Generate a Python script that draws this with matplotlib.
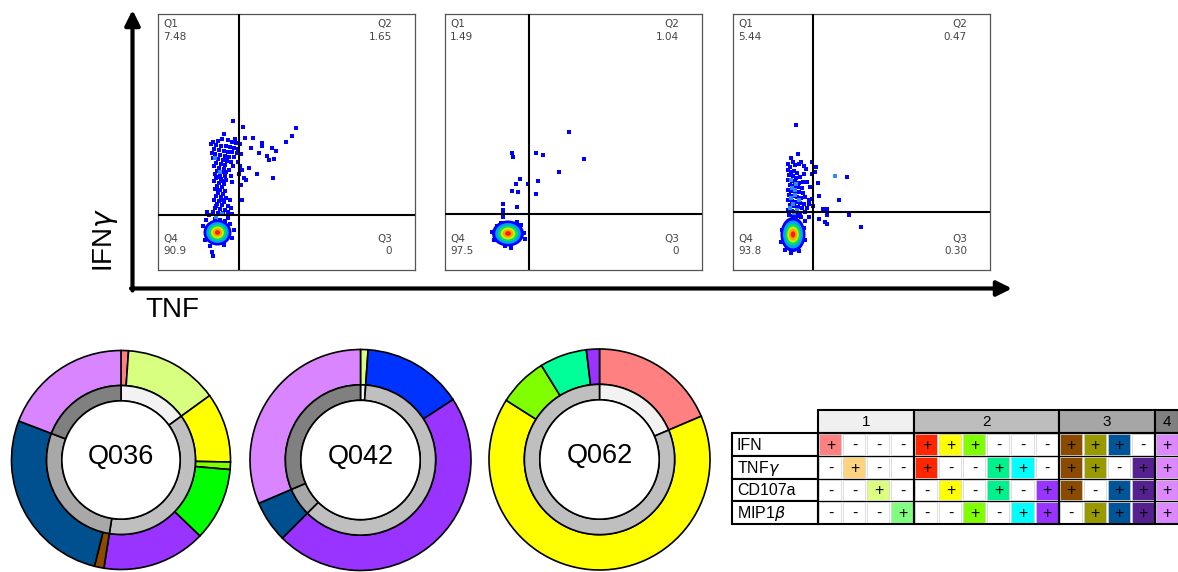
import matplotlib
matplotlib.use('Agg')
import matplotlib.pyplot as plt
from matplotlib.patches import Ellipse, Rectangle, Circle

W, H = 1178, 572
plt.rcParams['font.family'] = ['Liberation Sans', 'DejaVu Sans']
plt.rcParams['mathtext.fontset'] = 'dejavusans'

# ---- flow plots: quadrant values (Q1, Q2, Q3, Q4) ----
quad_values = [
    ['7.48', '1.65', '0', '90.9'],
    ['1.49', '1.04', '0', '97.5'],
    ['5.44', '0.47', '0.30', '93.8'],
]
# TNF gate / IFNg gate, in panel units (0-256)
gate_x = [81, 84, 80]
gate_y = [55, 56, 58]

# dense population: centre and half widths
blob_center = [(59.5, 37), (63, 36), (60, 35)]
blob_radius = [(14, 13), (16, 13), (12.5, 17.5)]

# single events
p1_events = [(75, 149), (85, 143), (138, 142), (134, 134), (128, 128), (66, 136), (87, 132),
             (95, 132), (104, 127), (104, 124), (114, 122), (118, 119), (93, 122), (101, 117),
             (109, 114), (111, 110), (116, 111), (91, 102), (99, 96), (115, 92), (88, 90), (84, 70),
             (64, 131), (60, 129), (55, 128), (70, 130), (74, 128), (78, 127), (82, 126), (58, 125),
             (63, 124), (68, 124), (72, 123), (76, 122), (80, 121), (56, 121), (61, 120), (66, 119),
             (70, 118), (74, 118), (79, 117), (83, 116), (57, 116), (62, 115), (67, 114), (71, 113),
             (76, 113), (55, 112), (60, 111), (65, 110), (69, 109), (73, 108), (80, 108), (58, 107),
             (63, 106), (67, 105), (56, 104), (61, 102), (66, 101), (71, 100), (59, 99), (64, 98),
             (57, 96), (62, 95), (67, 94), (73, 94), (58, 92), (63, 91), (68, 90), (56, 89), (61, 87),
             (66, 86), (59, 84), (64, 83), (57, 81), (62, 80), (67, 79), (60, 77), (65, 76), (58, 74),
             (63, 73), (68, 72), (56, 70), (61, 69), (66, 68), (59, 66), (64, 65), (70, 64), (57, 62),
             (62, 61), (67, 60), (55, 58), (60, 57), (65, 57), (70, 58), (74, 56), (51, 55), (82, 104),
             (84, 100), (81, 96), (86, 92), (83, 85), (72, 70), (73, 62), (68, 98), (74, 88), (49, 58),
             (45, 44), (47, 30), (72, 46), (74, 32), (52, 24), (66, 25), (54, 18), (55, 14), (70, 52),
             (76, 40), (48, 50), (62, 50), (67, 49), (57, 51), (53, 126), (77, 131), (54, 117),
             (59, 93), (65, 89), (60, 80), (64, 70), (58, 64), (69, 112), (75, 104)]
p1_light = [(62, 98), (57, 112), (58, 53), (64, 56)]

p2_events = [(124, 138), (139, 111), (91, 117), (98, 115), (67, 117), (68, 113), (114, 98),
             (75, 91), (93, 89), (71, 86), (83, 86), (67, 79), (73, 78), (91, 76), (58, 66), (72, 63),
             (58, 60), (58, 56), (58, 53), (47, 38), (49, 30), (79, 37), (80, 31), (72, 48), (56, 47),
             (66, 22), (60, 24), (76, 45), (52, 44)]
p2_light = []

p3_events = [(63, 145), (65, 116), (58, 112), (68, 108), (79, 108), (83, 103), (71, 104), (73, 101),
             (82, 98), (71, 96), (79, 96), (85, 87), (74, 88), (77, 83), (86, 74), (106, 70), (76, 70),
             (90, 61), (94, 61), (94, 55), (86, 51), (92, 48), (94, 46), (116, 55), (128, 43), (76, 53),
             (72, 49), (114, 93), (55, 100), (58, 98), (61, 99), (64, 97), (56, 95), (60, 94), (63, 92),
             (67, 93), (55, 90), (59, 89), (62, 88), (66, 87), (70, 88), (57, 85), (61, 84), (65, 83),
             (69, 82), (55, 80), (58, 79), (62, 78), (66, 78), (70, 77), (56, 75), (60, 74), (64, 73),
             (68, 72), (72, 73), (55, 70), (59, 69), (63, 68), (67, 67), (71, 66), (57, 65), (61, 64),
             (65, 63), (69, 62), (55, 60), (59, 59), (63, 58), (67, 57), (72, 58), (56, 55), (60, 54),
             (64, 54), (68, 53), (74, 62), (76, 66), (79, 71), (80, 64), (57, 103), (62, 105), (66, 106),
             (60, 108), (55, 106), (49, 40), (48, 28), (71, 42), (72, 30), (52, 20), (66, 19), (58, 17)]
p3_light = [(58, 72), (62, 75), (60, 66), (64, 60), (57, 62), (61, 57), (66, 70), (59, 82),
            (63, 86), (102, 94), (58, 90), (62, 80)]

events = [p1_events, p2_events, p3_events]
light_events = [p1_light, p2_light, p3_light]

# ---- donuts ----
donut_names = ['Q036', 'Q042', 'Q062']
d1_share = [1.1, 13.9, 10.3, 1.1, 10.8, 15.3, 1.4, 26.9, 19.2]
d1_color = ['#ff8080', '#d9ff80', '#ffff00', '#80ff00', '#00ff00', '#9933ff', '#8b4a00', '#00508f', '#d985ff']
d1_group = [1, 1, 2, 2, 2, 2, 3, 3, 4]
d2_share = [1.1, 14.7, 46.7, 6.1, 31.4]
d2_color = ['#d9ff80', '#0033ff', '#9933ff', '#00508f', '#d985ff']
d2_group = [1, 2, 2, 3, 4]
d3_share = [18.6, 65.4, 7.2, 6.9, 1.9]
d3_color = ['#ff8080', '#ffff00', '#80ff00', '#00ff99', '#9933ff']
d3_group = [1, 2, 2, 2, 2]
group_gray = {1: '#f2f2f2', 2: '#bfbfbf', 3: '#a8a8a8', 4: '#808080'}

# ---- boolean table ----
markers = ['IFN', 'TNF$\\gamma$', 'CD107a', 'MIP1$\\beta$']
combos = ['+---', '-+--', '--+-', '---+',
          '++--', '+-+-', '+--+', '-++-', '-+-+', '--++',
          '+++-', '++-+', '+-++', '-+++', '++++']
combo_color = ['#ff8080', '#ffd480', '#dcff80', '#80ff80',
               '#ff2600', '#ffff00', '#80ff00', '#00f08c', '#00ffff', '#9933ff',
               '#8a4b00', '#999900', '#005599', '#55208f', '#dd88ff']
group_names = ['1', '2', '3', '4']
group_sizes = [4, 6, 4, 1]
header_gray = ['#f0f0f0', '#bdbdbd', '#a6a6a6', '#808080']


def px_rect(left, top, w, h):
    return [left / W, 1 - (top + h) / H, w / W, h / H]


fig = plt.figure(figsize=(W / 100, H / 100), dpi=100)

# outer arrows
base = fig.add_axes([0, 0, 1, 1])
base.set_xlim(0, W)
base.set_ylim(H, 0)
base.axis('off')
arrow = dict(arrowstyle='-|>,head_length=0.9,head_width=0.45', lw=3, color='black',
             mutation_scale=10, shrinkA=0, shrinkB=0)
base.annotate('', xy=(132.5, 10), xytext=(132.5, 290.5), arrowprops=arrow)
base.annotate('', xy=(1012, 288.5), xytext=(131, 288.5), arrowprops=arrow)
fig.text(105 / W, 1 - 240 / H, 'IFN$\\gamma$', rotation=90, ha='center', va='center', fontsize=20)
fig.text(172 / W, 1 - 310 / H, 'TNF', ha='center', va='center', fontsize=20)

level_frac = [1.0, 0.8, 0.62, 0.46, 0.32, 0.18]
level_color = ['#0000ff', '#00a0ff', '#00e060', '#c8f000', '#ffa000', '#ff1a00']
panel_left = [158, 445, 733]
for k in range(3):
    ax = fig.add_axes(px_rect(panel_left[k], 13.5, 257, 256))
    ax.set_xlim(0, 257)
    ax.set_ylim(0, 256)
    ax.set_xticks([])
    ax.set_yticks([])
    for s in ax.spines.values():
        s.set_color('#555555')
        s.set_linewidth(0.9)
    x, y = zip(*events[k])
    ax.scatter(x, y, marker='s', s=11, c='#0000ff', linewidths=0, zorder=2)
    if light_events[k]:
        x, y = zip(*light_events[k])
        ax.scatter(x, y, marker='s', s=11, c='#2a8cff', linewidths=0, zorder=2)
    cx, cy = blob_center[k]
    rx, ry = blob_radius[k]
    for f, c in zip(level_frac, level_color):
        ax.add_patch(Ellipse((cx, cy), 2 * rx * f, 2 * ry * f, color=c, lw=0, zorder=3))
    ax.axvline(gate_x[k], color='black', lw=1.5, zorder=4)
    ax.axhline(gate_y[k], color='black', lw=1.5, zorder=4)
    q1, q2, q3, q4 = quad_values[k]
    qkw = dict(fontsize=7.5, color='#444444', family='DejaVu Sans', linespacing=1.35)
    ax.text(5, 250, 'Q1\n' + q1, ha='left', va='top', **qkw)
    ax.text(234, 250, 'Q2\n' + q2, ha='right', va='top', **qkw)
    ax.text(5, 13, 'Q4\n' + q4, ha='left', va='bottom', **qkw)
    ax.text(234, 13, 'Q3\n' + q3, ha='right', va='bottom', **qkw)

# donuts
donut_center = [(121, 460), (360.5, 460), (599.5, 459.5)]
donut_r = [109.5, 110.5, 110.5]
donut_data = [(d1_share, d1_color, d1_group), (d2_share, d2_color, d2_group),
              (d3_share, d3_color, d3_group)]
for k in range(3):
    cx, cy = donut_center[k]
    r = donut_r[k] * 1.03
    ax = fig.add_axes(px_rect(cx - r, cy - r, 2 * r, 2 * r))
    shares, colors, groups = donut_data[k]
    wp = dict(edgecolor='black', linewidth=1.2)
    ax.pie(shares, colors=colors, radius=1, startangle=90, counterclock=False,
           wedgeprops=dict(width=0.32, **wp))
    gsum = [sum(s for s, g in zip(shares, groups) if g == n) for n in (1, 2, 3, 4)]
    gcol = [group_gray[n] for n, v in zip((1, 2, 3, 4), gsum) if v > 0]
    gsum = [v for v in gsum if v > 0]
    ax.pie(gsum, colors=gcol, radius=0.68, startangle=90, counterclock=False,
           wedgeprops=dict(width=0.14, **wp))
    ax.add_patch(Circle((0, 0), 0.54, fc='white', ec='black', lw=1.2))
    ax.text(0, 0.03, donut_names[k], ha='center', va='center', fontsize=19.5)
    ax.set_xlim(-1.03, 1.03)
    ax.set_ylim(-1.03, 1.03)

# table
tab = fig.add_axes(px_rect(728, 405, 452, 125))
tab.set_xlim(728, 1180)
tab.set_ylim(530, 405)
tab.axis('off')
x0, y0, cw, rh = 818.5, 433, 24, 22.75
for i, m in enumerate(markers):
    yt = y0 + i * rh
    tab.add_patch(Rectangle((732, yt), x0 - 732, rh, fc='white', ec='black', lw=1.5))
    tab.text(737, yt + rh / 2 + 1, m, ha='left', va='center', fontsize=11.5)
    for j, combo in enumerate(combos):
        sign = combo[i]
        fc = combo_color[j] if sign == '+' else 'white'
        tab.add_patch(Rectangle((x0 + j * cw + 1, yt + 1), cw - 2, rh - 2, fc=fc,
                                ec='#d0d0d0', lw=0.5))
        tab.text(x0 + j * cw + cw / 2, yt + rh / 2 + 1, sign, ha='center', va='center',
                 fontsize=11.5)
start = 0
for g, n in enumerate(group_sizes):
    xs = x0 + start * cw
    tab.add_patch(Rectangle((xs, 410), n * cw, y0 - 410, fc=header_gray[g], ec='black', lw=1.5))
    tab.text(xs + n * cw / 2, 422, group_names[g], ha='center', va='center', fontsize=11)
    tab.add_patch(Rectangle((xs, y0), n * cw, 4 * rh, fill=False, ec='black', lw=1.5))
    start += n
for i in range(1, 4):
    tab.plot([x0, x0 + 15 * cw], [y0 + i * rh] * 2, color='black', lw=0.8)

fig.savefig('out.png', dpi=100)
